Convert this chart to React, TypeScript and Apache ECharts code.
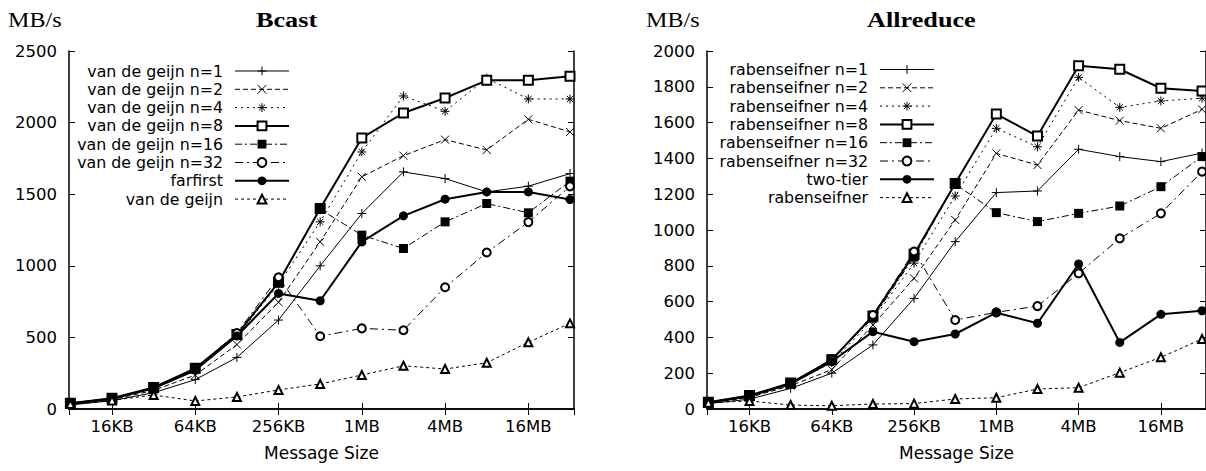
import React, { useEffect, useRef } from 'react';
import * as echarts from 'echarts';

// Message sizes in KB (8KB .. 32MB)
const sizesKB = [8, 16, 32, 64, 128, 256, 512, 1024, 2048, 4096, 8192, 16384, 32768];
const xTickValues = [16, 64, 256, 1024, 4096, 16384];
const xTickLabels = ['16KB', '64KB', '256KB', '1MB', '4MB', '16MB'];

// Bcast (MB/s)
const bcastNames = ['van de geijn n=1', 'van de geijn n=2', 'van de geijn n=4', 'van de geijn n=8', 'van de geijn n=16', 'van de geijn n=32', 'farfirst', 'van de geijn'];
const bcastN1 = [28, 58, 114, 205, 360, 621, 1000, 1365, 1656, 1609, 1516, 1556, 1644];
const bcastN2 = [32, 65, 130, 237, 450, 746, 1167, 1621, 1769, 1881, 1809, 2023, 1935];
const bcastN4 = [35, 70, 145, 275, 510, 870, 1307, 1795, 2186, 2079, 2310, 2165, 2165];
const bcastN8 = [40, 75, 150, 284, 520, 885, 1400, 1893, 2067, 2172, 2295, 2295, 2323];
const bcastN16 = [38, 75, 149, 282, 517, 885, 1395, 1214, 1121, 1307, 1435, 1370, 1591];
const bcastN32 = [38, 72, 148, 280, 530, 920, 508, 563, 550, 850, 1093, 1305, 1555];
const bcastFarfirst = [38, 72, 145, 270, 510, 807, 756, 1167, 1349, 1465, 1516, 1516, 1463];
const bcastVdg = [35, 60, 98, 56, 84, 133, 175, 237, 302, 279, 323, 466, 598];

// Allreduce (MB/s)
const allNames = ['rabenseifner n=1', 'rabenseifner n=2', 'rabenseifner n=4', 'rabenseifner n=8', 'rabenseifner n=16', 'rabenseifner n=32', 'two-tier', 'rabenseifner'];
const allN1 = [30, 55, 115, 200, 358, 618, 935, 1209, 1218, 1451, 1410, 1382, 1430];
const allN2 = [32, 65, 130, 220, 469, 730, 1056, 1428, 1363, 1670, 1611, 1568, 1674];
const allN4 = [35, 70, 140, 260, 500, 815, 1190, 1568, 1465, 1853, 1685, 1721, 1736];
const allN8 = [38, 75, 145, 275, 520, 865, 1260, 1648, 1525, 1918, 1898, 1792, 1777];
const allN16 = [36, 74, 145, 279, 508, 850, 1257, 1097, 1047, 1093, 1134, 1242, 1410];
const allN32 = [36, 72, 145, 275, 525, 880, 497, 540, 575, 758, 953, 1093, 1326];
const allTwoTier = [35, 72, 140, 265, 432, 376, 419, 538, 479, 810, 372, 529, 549];
const allRaben = [35, 45, 22, 18, 28, 30, 56, 63, 112, 119, 203, 289, 391];

const bcastData = [bcastN1, bcastN2, bcastN4, bcastN8, bcastN16, bcastN32, bcastFarfirst, bcastVdg];
const allData = [allN1, allN2, allN4, allN8, allN16, allN32, allTwoTier, allRaben];

const SANS = 'DejaVu Sans';
const SERIF = 'Liberation Serif';

type Sty = { symbol: string; size: number; width: number; dash: any; fill: string; border: number };
const styles: Sty[] = [
  { symbol: 'path://M0,5L10,5M5,0L5,10', size: 9, width: 1, dash: 'solid', fill: '#000', border: 1 },
  { symbol: 'path://M0,0L10,10M10,0L0,10', size: 8, width: 1, dash: [5, 3], fill: '#000', border: 1 },
  { symbol: 'path://M0,5L10,5M5,0L5,10M1.5,1.5L8.5,8.5M8.5,1.5L1.5,8.5', size: 9, width: 1, dash: [2, 4], fill: '#000', border: 1 },
  { symbol: 'emptyRect', size: 9, width: 2, dash: 'solid', fill: '#000', border: 1.5 },
  { symbol: 'rect', size: 9, width: 1, dash: [7, 3, 2, 3], fill: '#000', border: 0 },
  { symbol: 'emptyCircle', size: 8, width: 1, dash: [8, 4, 2, 4], fill: '#000', border: 1 },
  { symbol: 'circle', size: 9, width: 2, dash: 'solid', fill: '#000', border: 0 },
  { symbol: 'emptyTriangle', size: 8, width: 1, dash: [3, 3], fill: '#000', border: 1 },
];

const xMin = 7.82;
const xMax = 35030;

function xLabel(v: number): string {
  const i = xTickValues.findIndex((t) => Math.abs(t - v) / t < 1e-6);
  return i >= 0 ? xTickLabels[i] : '';
}

function makeSeries(names: string[], data: number[][], gi: number) {
  return names.map((name, k) => {
    const st = styles[k];
    return {
      type: 'line',
      name,
      xAxisIndex: gi * 2,
      yAxisIndex: gi * 2,
      data: sizesKB.map((s, i) => [s, data[k][i]]),
      symbol: st.symbol,
      symbolSize: st.size,
      showSymbol: true,
      silent: true,
      emphasis: { disabled: true },
      lineStyle: { color: '#000', width: st.width, type: st.dash },
      itemStyle: { color: st.fill, borderColor: '#000', borderWidth: st.border },
    };
  });
}

function makeLegend(names: string[], right: number, top: number) {
  return {
    orient: 'vertical',
    align: 'right',
    right,
    top,
    padding: 0,
    itemWidth: 54,
    itemHeight: 11,
    itemGap: 0.3,
    selectedMode: false,
    textStyle: { fontFamily: SANS, fontSize: 15.8, color: '#000', lineHeight: 18, padding: [0, 7, 0, 0] },
    data: names.map((n, k) => ({
      name: n,
      lineStyle: { width: styles[k].width },
      itemStyle: { borderWidth: styles[k].border },
    })),
  };
}

function xAxes(gi: number) {
  const common = {
    type: 'log',
    logBase: 4,
    min: xMin,
    max: xMax,
    gridIndex: gi,
    axisLine: { show: true, lineStyle: { color: '#000', width: 1.5 } },
    axisTick: { show: true, inside: true, length: 6, lineStyle: { color: '#000', width: 1 } },
    splitLine: { show: false },
    minorTick: { show: false },
  };
  return [
    {
      ...common,
      position: 'bottom',
      name: 'Message Size',
      nameLocation: 'middle',
      nameGap: 35,
      nameTextStyle: { fontFamily: SANS, fontSize: 17, color: '#000' },
      axisLabel: {
        show: true,
        margin: 9,
        showMinLabel: false,
        showMaxLabel: false,
        fontFamily: SANS,
        fontSize: 16.5,
        color: '#000',
        formatter: (v: number) => xLabel(v),
      },
    },
    { ...common, position: 'top', axisLabel: { show: false } },
  ];
}

function yAxes(gi: number, max: number, interval: number) {
  const common = {
    type: 'value',
    min: 0,
    max,
    interval,
    gridIndex: gi,
    axisLine: { show: true, lineStyle: { color: '#000', width: 1.5 } },
    axisTick: { show: true, inside: true, length: 6, lineStyle: { color: '#000', width: 1 } },
    splitLine: { show: false },
  };
  return [
    {
      ...common,
      position: 'left',
      axisLabel: { show: true, margin: 12, fontFamily: SANS, fontSize: 16.5, color: '#000', formatter: (v: number) => String(Math.round(v)) },
    },
    { ...common, position: 'right', axisLabel: { show: false } },
  ];
}

export default function App() {
  const ref = useRef<HTMLDivElement>(null);
  useEffect(() => {
    if (!ref.current) return;
    const chart = echarts.init(ref.current, null, { renderer: 'svg' });
    const option: any = {
      animation: false,
      backgroundColor: '#fff',
      grid: [
        { left: 69, right: 1206 - 574, top: 51, bottom: 471 - 409 },
        { left: 707, right: 1206 - 1212, top: 51, bottom: 471 - 409 },
      ],
      xAxis: [...xAxes(0), ...xAxes(1)],
      yAxis: [...yAxes(0, 2500, 500), ...yAxes(1, 2000, 200)],
      legend: [makeLegend(bcastNames, 1206 - 290, 62), makeLegend(allNames, 1206 - 935, 60.5)],
      series: [...makeSeries(bcastNames, bcastData, 0), ...makeSeries(allNames, allData, 1)],
      graphic: [
        { type: 'text', x: 8, y: 19.5, scaleX: 1.12, style: { text: 'MB/s', fontFamily: SERIF, fontSize: 21.5, fill: '#000', verticalAlign: 'middle' } },
        { type: 'text', x: 256, y: 19.5, scaleX: 1.22, style: { text: 'Bcast', fontFamily: SERIF, fontWeight: 'bold', fontSize: 21.5, fill: '#000', verticalAlign: 'middle' } },
        { type: 'text', x: 646, y: 19.5, scaleX: 1.12, style: { text: 'MB/s', fontFamily: SERIF, fontSize: 21.5, fill: '#000', verticalAlign: 'middle' } },
        { type: 'text', x: 867, y: 19.5, scaleX: 1.22, style: { text: 'Allreduce', fontFamily: SERIF, fontWeight: 'bold', fontSize: 21.5, fill: '#000', verticalAlign: 'middle' } },
      ],
    };
    chart.setOption(option);
    return () => chart.dispose();
  }, []);
  return <div ref={ref} style={{ position: 'absolute', left: 0, top: 0, width: 1206, height: 471 }} />;
}
